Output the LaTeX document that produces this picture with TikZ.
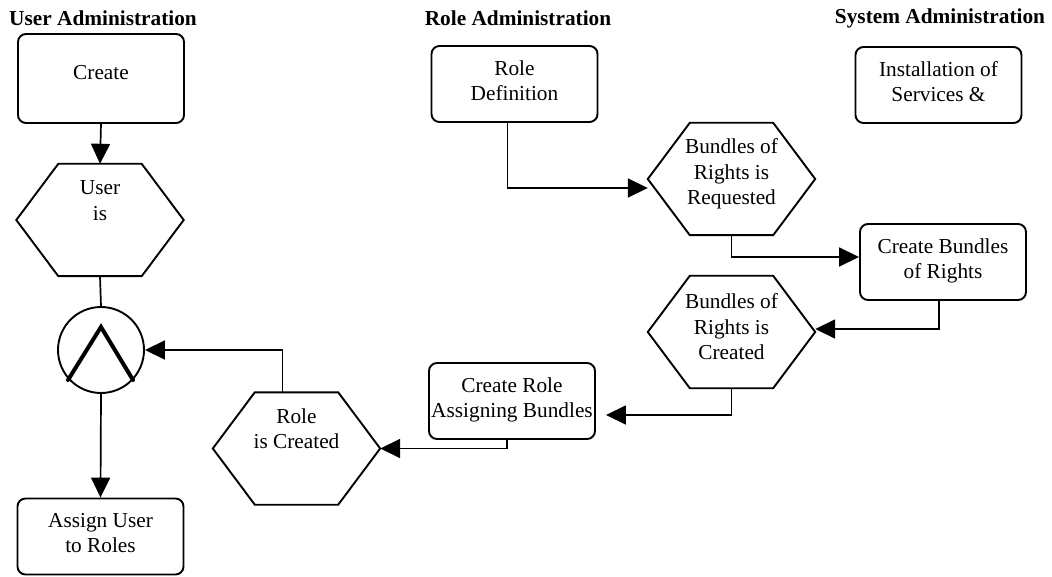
\documentclass[tikz,border=0pt]{standalone}
\usepackage{fontspec}
\setmainfont{Liberation Serif}
\newfontfamily\labelfont{Liberation Serif}
\usetikzlibrary{arrows.meta}

% outline of a stretched hexagon around a (borderless) rectangular node
\newcommand\hexoutline[1]{%
  \draw[hexline] (#1.west) -- ([xshift=42pt]#1.north west)
    -- ([xshift=-42pt]#1.north east) -- (#1.east)
    -- ([xshift=-42pt]#1.south east) -- ([xshift=42pt]#1.south west) -- cycle;}

\begin{document}
\begin{tikzpicture}[x=1pt,y=-1pt,
  txt/.style={font=\labelfont\fontsize{21.3}{25.5}\selectfont},
  head/.style={font=\labelfont\fontsize{21.3}{25.5}\selectfont\bfseries, inner sep=0pt},
  box/.style={txt, draw, line width=1.9pt, rounded corners=8pt,
    minimum width=166pt, minimum height=76pt, align=center, inner sep=0pt,
    text depth=7pt},
  hexnode/.style={minimum width=167pt, minimum height=112pt, inner sep=0pt},
  hextext/.style={txt, align=center, inner sep=0pt},
  hexline/.style={line width=1.9pt, line join=miter},
  conn/.style={line width=1.7pt},
  arr/.style={conn, -{Triangle[length=20pt,width=19pt]}},
  andgate/.style={draw, circle, line width=1.9pt, minimum size=86pt, inner sep=0pt}]

\useasboundingbox (0,0) rectangle (1052,577);

% column headings
\node[head] (hUser) at (103,18) {User Administration};
\node[head] (hRole) at (518,18) {Role Administration};
\node[head] (hSys)  at (940,18) {System Administration};

% functions (rounded boxes)
\node[box, minimum height=89pt, text depth=12pt] (create) at (101,78.5) {Create};
\node[box] (roledef) at (514.5,84) {Role\\Definition};
\node[box] (inst)    at (938.5,85) {Installation of\\Services \&};
\node[box] (cb)      at (943,262) {Create Bundles\\of Rights};
\node[box] (crole)   at (512,401) {Create Role\\Assigning Bundles};
\node[box] (assign)  at (100.5,536.5) {Assign User\\to Roles};

% events (hexagons)
\node[hexnode, label={[hextext, yshift=19.5pt]center:{User\\is}}] (userhex) at (100,220) {};
\node[hexnode, label={[hextext, yshift=5pt]center:{Bundles of\\Rights is\\Requested}}] (req) at (731.5,179) {};
\node[hexnode, label={[hextext, yshift=5pt]center:{Bundles of\\Rights is\\Created}}] (crt) at (731.5,332) {};
\node[hexnode, label={[hextext, yshift=20pt]center:{Role\\is Created}}] (rolehex) at (296.5,448.5) {};
\hexoutline{userhex}
\hexoutline{req}
\hexoutline{crt}
\hexoutline{rolehex}

% AND connector
\node[andgate] (and) at (101,350) {};
\draw[line width=4pt, line cap=round]
  ([shift={(-33pt,-30pt)}]and.center) -- ([yshift=23pt]and.center)
  -- ([shift={(32pt,-30pt)}]and.center);

% control flow
\draw[arr] (create.south) -- (userhex.north);
\draw[conn] (userhex.south) -- (and.north);
\draw[arr] (and.south) -- (assign.north);
\draw[arr] ([xshift=-14pt]rolehex.north) |- (and.east);
\draw[arr] ([xshift=-7pt]roledef.south) |- ([yshift=-9pt]req.west);
\draw[arr] (req.south) |- ([yshift=5pt]cb.west);
\draw[arr] ([xshift=-4pt]cb.south) |- ([yshift=3pt]crt.east);
\draw[arr] (crt.south) |- ([shift={(10pt,-14pt)}]crole.east);
\draw[arr] ([xshift=-5pt]crole.south) |- (rolehex.east);

\end{tikzpicture}
\end{document}
